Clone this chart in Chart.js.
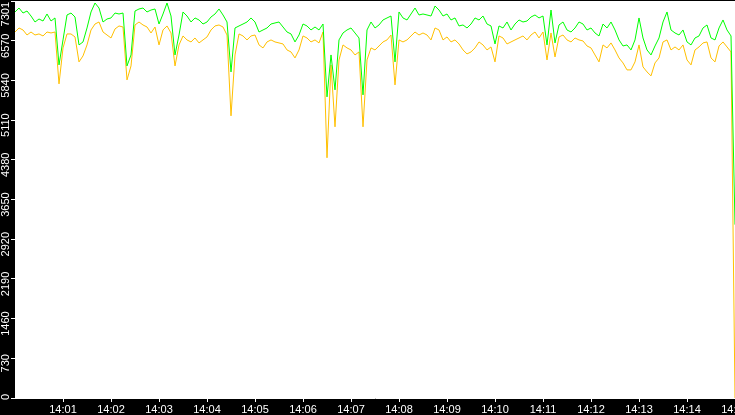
<!DOCTYPE html>
<html>
<head>
<meta charset="utf-8">
<script src="https://cdn.jsdelivr.net/npm/chart.js@4/dist/chart.umd.min.js"></script>
<style>
  html, body { margin: 0; padding: 0; background: #000; }
  #wrap { width: 735px; height: 415px; position: relative; }
  canvas { display: block; }
</style>
</head>
<body>
<div id="wrap"><canvas id="c" width="735" height="415"></canvas></div>
<script>
// time axis: seconds after 14:00:00, one sample every 5 seconds
const sampleIntervalSec = 5;
const xTickValues = [60, 120, 180, 240, 300, 360, 420, 480, 540, 600, 660, 720, 780, 840, 900];
const xTickLabels = ['14:01', '14:02', '14:03', '14:04', '14:05', '14:06', '14:07', '14:08', '14:09', '14:10', '14:11', '14:12', '14:13', '14:14', '14:15'];
const yTickValues = [0, 730, 1460, 2190, 2920, 3650, 4380, 5110, 5840, 6570, 7301];
const yTickLabels = ['0', '730', '1460', '2190', '2920', '3650', '4380', '5110', '5840', '6570', '7301'];

const greenSeries = [
  7099, 7172, 7080, 7117, 7025, 6915, 6970, 6933, 7062, 6933,
  6989, 6126, 6585, 7044, 7080, 7007, 6493, 6548, 6805, 7099,
  7264, 7172, 6915, 6970, 6989, 7080, 7062, 7080, 6107, 6309,
  7117, 7154, 7172, 7099, 7135, 7154, 6878, 7062, 7264, 7025,
  6309, 6676, 7099, 7025, 6915, 6989, 6952, 6878, 6915, 7007,
  7062, 7154, 7044, 6915, 5997, 6805, 6842, 6878, 6915, 6989,
  6915, 6731, 6768, 6805, 6878, 6897, 6915, 6823, 6731, 6695,
  6548, 6676, 6878, 6842, 6768, 6823, 6768, 6878, 5538, 6309,
  5667, 6585, 6713, 6768, 6805, 6713, 6621, 5575, 6768, 6915,
  6805, 6860, 6952, 6989, 7025, 6181, 7099, 6989, 6952, 7062,
  7172, 7044, 7062, 7044, 7025, 7209, 7135, 7025, 7062, 6952,
  6989, 6842, 6860, 6805, 6878, 6989, 6952, 7025, 6878, 6842,
  6511, 6842, 6805, 6915, 6768, 6878, 6952, 6915, 6933, 7007,
  7044, 6989, 7025, 6493, 7135, 6530, 6860, 6915, 6768, 6731,
  6805, 6915, 6878, 6768, 6805, 6713, 6658, 6878, 6805, 6915,
  6768, 6585, 6474, 6493, 6401, 6585, 6989, 6621, 6401, 6309,
  6474, 6621, 6915, 7099, 6768, 6713, 6676, 6768, 6548, 6493,
  6621, 6658, 6805, 6860, 6621, 6585, 6805, 6952, 6768, 6658,
  3188
];

const orangeSeries = [
  6731, 6805, 6768, 6676, 6731, 6676, 6695, 6658, 6731, 6713,
  6731, 5777, 6438, 6695, 6695, 6640, 6181, 6291, 6493, 6768,
  6878, 6915, 6731, 6676, 6621, 6787, 6842, 6823, 5850, 6107,
  6860, 6915, 6860, 6823, 6713, 6823, 6493, 6768, 6842, 6713,
  6107, 6493, 6658, 6585, 6548, 6621, 6530, 6585, 6640, 6768,
  6842, 6860, 6823, 6676, 5189, 6309, 6695, 6658, 6585, 6658,
  6676, 6493, 6438, 6548, 6585, 6548, 6530, 6511, 6401, 6364,
  6254, 6401, 6658, 6621, 6548, 6585, 6530, 6731, 4418, 6126,
  4987, 6217, 6493, 6438, 6401, 6309, 6364, 4987, 6217, 6438,
  6401, 6474, 6548, 6585, 6676, 5758, 6585, 6548, 6585, 6658,
  6731, 6676, 6713, 6676, 6585, 6805, 6768, 6585, 6640, 6548,
  6585, 6511, 6401, 6328, 6364, 6438, 6548, 6493, 6401, 6456,
  6181, 6658, 6621, 6511, 6548, 6585, 6621, 6658, 6585, 6676,
  6731, 6621, 6731, 6217, 6713, 6272, 6640, 6676, 6585, 6548,
  6621, 6585, 6566, 6474, 6438, 6309, 6181, 6493, 6438, 6530,
  6401, 6254, 6162, 6034, 6034, 6181, 6493, 6089, 5997, 5924,
  6162, 6254, 6548, 6585, 6401, 6456, 6401, 6493, 6217, 6126,
  6401, 6456, 6530, 6548, 6254, 6181, 6474, 6548, 6456, 6364,
  0
];

const greenColor = '#00ff00';
const orangeColor = '#ffc000';
const FONT_FAMILY = "'Liberation Sans', Arial, sans-serif";

function toPoints(values) {
  return values.map((v, i) => ({ x: i * sampleIntervalSec, y: v }));
}

const plotBackground = {
  id: 'plotBackground',
  beforeDraw(chart) {
    const { ctx, chartArea } = chart;
    ctx.save();
    ctx.fillStyle = '#000';
    ctx.fillRect(0, 0, chart.width, chart.height);
    ctx.fillStyle = '#fff';
    ctx.fillRect(chartArea.left, chartArea.top, chartArea.right - chartArea.left, chartArea.bottom - chartArea.top);
    ctx.restore();
  }
};

const yLabels = {
  id: 'yLabels',
  afterDraw(chart) {
    const { ctx } = chart;
    const yScale = chart.scales.y;
    ctx.save();
    ctx.font = '11px ' + FONT_FAMILY;
    ctx.fillStyle = '#fff';
    ctx.textAlign = 'center';
    ctx.textBaseline = 'middle';
    yTickValues.forEach((v, i) => {
      const label = yTickLabels[i];
      const py = yScale.getPixelForValue(v);
      const w = ctx.measureText(label).width;
      let c = py + 5;
      c = Math.max(c, 2 + w / 2);
      c = Math.min(c, 400 - w / 2);
      ctx.save();
      ctx.translate(6, c);
      ctx.rotate(-Math.PI / 2);
      ctx.fillText(label, 0, 0);
      ctx.restore();
    });
    ctx.restore();
  }
};

new Chart(document.getElementById('c'), {
  type: 'line',
  data: {
    datasets: [
      {
        label: 'green',
        data: toPoints(greenSeries),
        borderColor: greenColor,
        borderWidth: 1,
        pointRadius: 0,
        tension: 0,
        fill: false
      },
      {
        label: 'orange',
        data: toPoints(orangeSeries),
        borderColor: orangeColor,
        borderWidth: 1,
        pointRadius: 0,
        tension: 0,
        fill: false
      }
    ]
  },
  options: {
    responsive: false,
    devicePixelRatio: 1,
    animation: false,
    events: [],
    layout: { padding: { top: 1, left: 0, right: 0, bottom: 0 } },
    plugins: {
      legend: { display: false },
      tooltip: { enabled: false },
      title: { display: false }
    },
    scales: {
      x: {
        type: 'linear',
        min: 0,
        max: 900,
        afterBuildTicks(scale) {
          scale.ticks = xTickValues.map(v => ({ value: v }));
        },
        afterFit(scale) {
          scale.height = 17;
          scale.paddingLeft = 0;
          scale.paddingRight = 0;
        },
        ticks: {
          autoSkip: false,
          maxRotation: 0,
          minRotation: 0,
          color: '#fff',
          padding: 1,
          font: { family: FONT_FAMILY, size: 11 },
          callback(value) {
            const idx = xTickValues.indexOf(value);
            return idx >= 0 ? xTickLabels[idx] : '';
          }
        },
        grid: {
          drawOnChartArea: false,
          drawTicks: true,
          tickLength: 4,
          color: '#fff'
        },
        border: { display: true, color: '#fff', width: 1 }
      },
      y: {
        type: 'linear',
        min: 0,
        max: 7301,
        afterBuildTicks(scale) {
          scale.ticks = yTickValues.map(v => ({ value: v }));
        },
        afterFit(scale) {
          scale.width = 15;
          scale.paddingTop = 0;
          scale.paddingBottom = 0;
        },
        ticks: { display: false },
        grid: {
          drawOnChartArea: false,
          drawTicks: true,
          tickLength: 4,
          color: '#fff'
        },
        border: { display: true, color: '#fff', width: 1 }
      }
    }
  },
  plugins: [plotBackground, yLabels]
});
</script>
</body>
</html>
